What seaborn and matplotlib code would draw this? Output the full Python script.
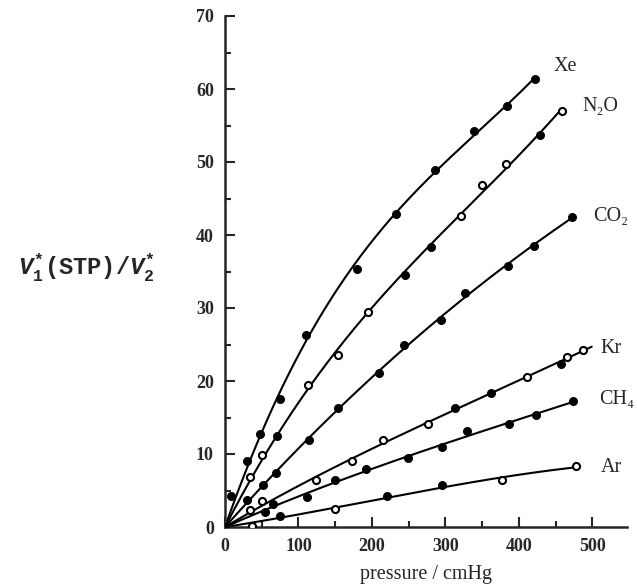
import numpy as np
import pandas as pd
import matplotlib
matplotlib.use('Agg')
import matplotlib.pyplot as plt
from matplotlib.ticker import MultipleLocator
import seaborn as sns

# values: pressure (cmHg), V1*(STP)/V2*, open marker?
xe_p = [0, 8.8, 30, 47.7, 75, 110, 179, 233, 286, 339, 383.5, 422]
xe_v = [0, 4.2, 9.0, 12.7, 17.6, 26.3, 35.4, 42.9, 48.9, 54.2, 57.7, 61.4]
xe_open = [0] * 12

n2o_p = [0, 33.6, 49.7, 70.4, 112.5, 154, 194, 245, 280.5, 321, 349.5, 382.6, 428, 458.4]
n2o_v = [0, 6.8, 9.8, 12.5, 19.5, 23.5, 29.5, 34.5, 38.3, 42.6, 46.8, 49.7, 53.7, 57.0]
n2o_open = [0, 1, 1, 0, 1, 1, 1, 0, 0, 1, 1, 1, 0, 1]

co2_p = [0, 30.4, 51.7, 69.4, 113.7, 154, 209, 244, 293.7, 327, 385, 420, 472]
co2_v = [0, 3.7, 5.7, 7.4, 11.9, 16.3, 21.1, 25.0, 28.3, 32.1, 35.7, 38.5, 42.5]
co2_open = [0] * 13

kr_p = [0, 33.6, 50.4, 123.5, 172.5, 215.5, 276.8, 313, 361.7, 410.8, 457, 465, 487]
kr_v = [0, 2.3, 3.5, 6.4, 9.0, 11.9, 14.1, 16.3, 18.4, 20.6, 22.3, 23.3, 24.2]
kr_open = [0, 1, 1, 1, 1, 1, 1, 0, 0, 1, 0, 1, 1]

ch4_p = [0, 54, 65, 111, 149, 192, 249.6, 295, 329, 387, 423, 473]
ch4_v = [0, 2.1, 3.1, 4.1, 6.4, 8.0, 9.4, 10.9, 13.1, 14.1, 15.4, 17.2]
ch4_open = [0] * 12

ar_p = [0, 37, 75.5, 149, 220, 295, 376.7, 478]
ar_v = [0, 0.15, 1.5, 2.4, 4.2, 5.7, 6.4, 8.3]
ar_open = [0, 1, 0, 1, 0, 0, 1, 1]

gases = ['Xe', 'N₂O', 'CO₂', 'Kr', 'CH₄', 'Ar']
curve_end = [422, 458.4, 472, 499, 473, 478]

series = [(xe_p, xe_v, xe_open), (n2o_p, n2o_v, n2o_open), (co2_p, co2_v, co2_open),
          (kr_p, kr_v, kr_open), (ch4_p, ch4_v, ch4_open), (ar_p, ar_v, ar_open)]

rows = []
for g, (p, v, o) in zip(gases, series):
    for a, b, c in zip(p, v, o):
        rows.append((g, a, b, c))
df = pd.DataFrame(rows, columns=['gas', 'pressure', 'ratio', 'open'])

# smooth fitted curves through the origin
curves = []
for g, (p, v, o), end in zip(gases, series, curve_end):
    p = np.array(p, float)
    v = np.array(v, float)
    A = np.column_stack([p, p**2, p**3])
    coef = np.linalg.lstsq(A, v, rcond=None)[0]
    pp = np.linspace(0, end, 200)
    curves.append(pd.DataFrame({'gas': g, 'pressure': pp,
                                'ratio': coef[0]*pp + coef[1]*pp**2 + coef[2]*pp**3}))
curve_df = pd.concat(curves)

sns.set_style('ticks')
plt.rcParams['font.family'] = ['Liberation Serif', 'DejaVu Serif']
plt.rcParams['mathtext.fontset'] = 'custom'
plt.rcParams['mathtext.rm'] = 'Liberation Mono:bold'
plt.rcParams['mathtext.it'] = 'Liberation Mono:bold:italic'

fig = plt.figure(figsize=(6.37, 5.87), dpi=100)
ax = fig.add_axes([225/637, 60/587, 402/637, 511/587])

for g in gases:
    sub = curve_df[curve_df.gas == g]
    sns.lineplot(x=sub.pressure, y=sub.ratio, color='black', linewidth=1.5, ax=ax)

filled = df[df.open == 0]
hollow = df[df.open == 1]
sns.scatterplot(x=filled.pressure, y=filled.ratio, color='black', edgecolor='black',
                s=32, linewidth=0.8, ax=ax, zorder=3)
sns.scatterplot(x=hollow.pressure, y=hollow.ratio, color='white', edgecolor='black',
                s=26, linewidth=1.5, ax=ax, zorder=3)

ax.set_xlim(0, 547)
ax.set_ylim(0, 70)
sns.despine(ax=ax)
for s in ['left', 'bottom']:
    ax.spines[s].set_linewidth(1.8)
ax.set_xticks(range(0, 501, 100))
ax.set_yticks(range(0, 71, 10))
ax.xaxis.set_minor_locator(MultipleLocator(50))
ax.yaxis.set_minor_locator(MultipleLocator(5))
ax.tick_params(which='both', direction='in', width=1.5, labelsize=13, pad=8)
ax.tick_params(which='major', length=7)
ax.tick_params(which='minor', length=4)
for lbl in ax.get_xticklabels() + ax.get_yticklabels():
    lbl.set_fontweight('bold')

ax.set_xlabel('pressure / cmHg', fontsize=14.5, labelpad=7)
ax.set_ylabel('')

label_xy = [(447, 63.1), (486, 57.6), (501, 42.6), (511, 24.4), (509, 17.5), (511, 8.2)]
for g, (lx, ly) in zip(gases, label_xy):
    ax.text(lx, ly, g, fontsize=14.5, ha='left', va='center')

fig.text(87/637, 1 - 268/587, r'$V_1^{*}\mathrm{(STP)}/V_2^{*}$', fontsize=17,
         ha='center', va='center')

fig.savefig('out.png', dpi=100)
